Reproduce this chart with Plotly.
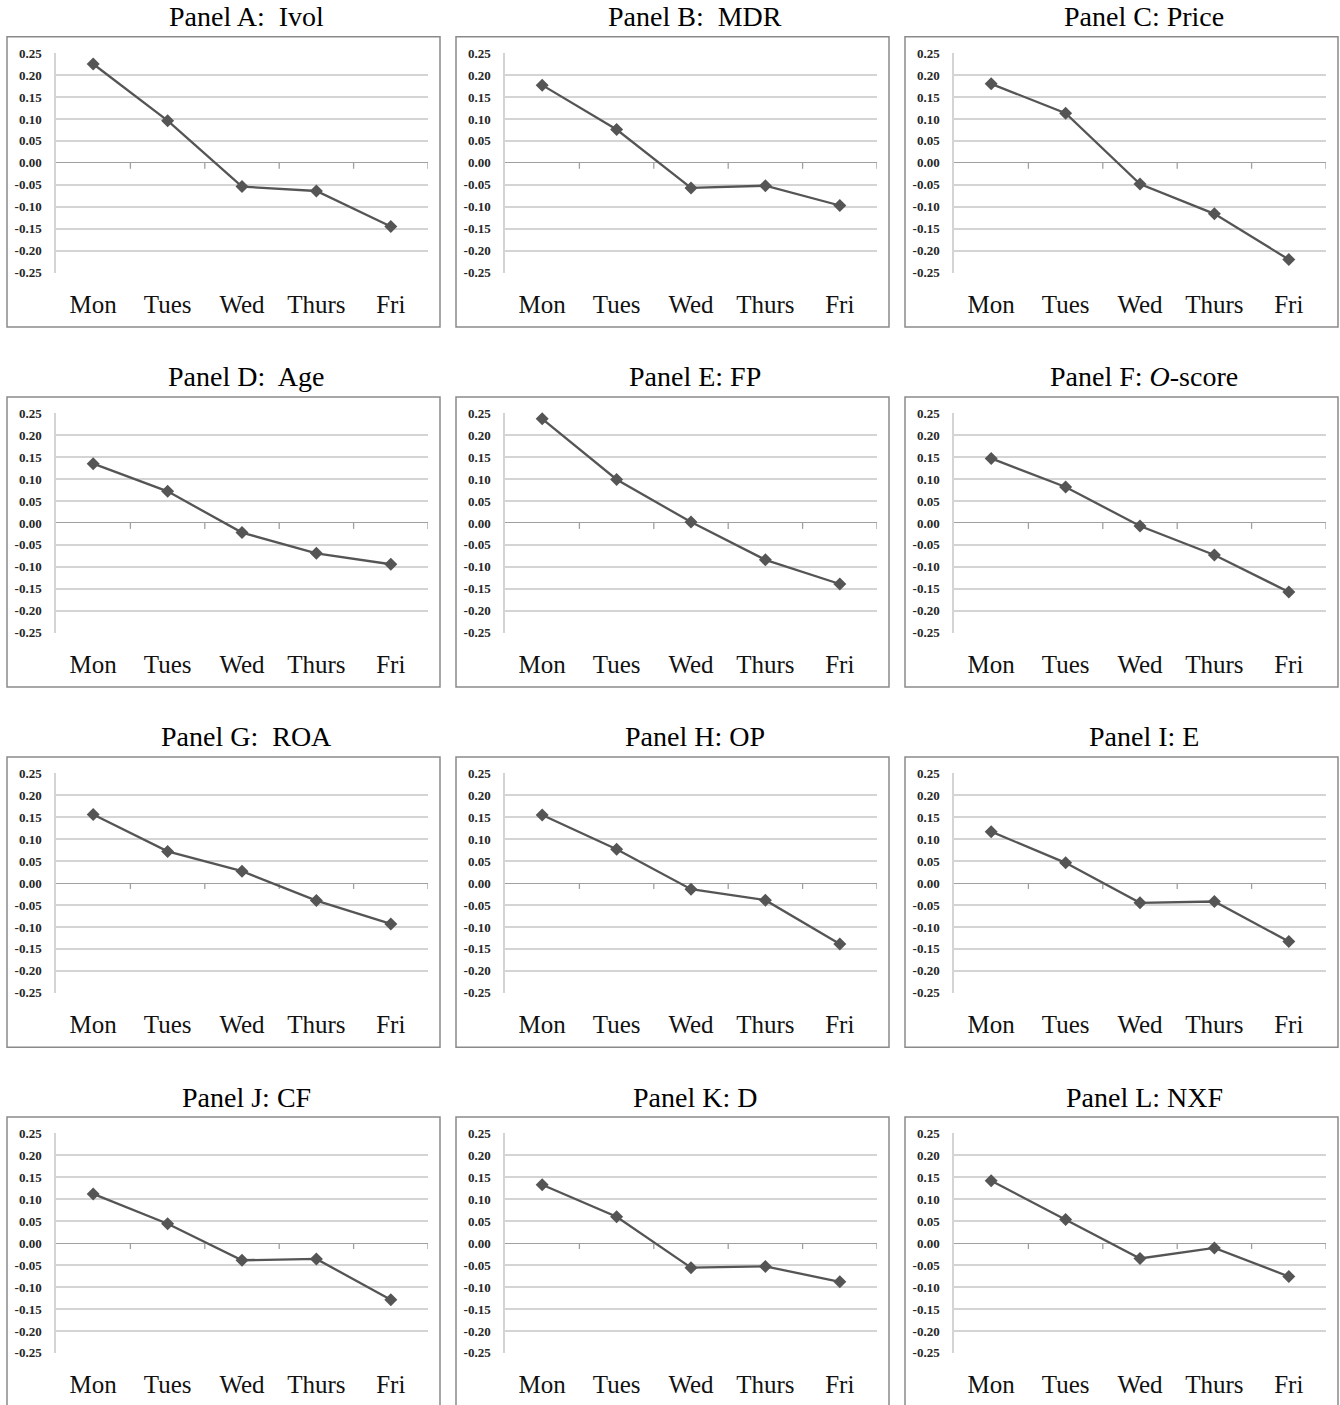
import plotly.graph_objects as go

# Day-of-week categories shared by every panel
days = ["Mon", "Tues", "Wed", "Thurs", "Fri"]

# Panel titles (row-major, three panels per row)
panel_titles = [
    "Panel A:  Ivol", "Panel B:  MDR", "Panel C: Price",
    "Panel D:  Age", "Panel E: FP", "Panel F: <i>O</i>-score",
    "Panel G:  ROA", "Panel H: OP", "Panel I: E",
    "Panel J: CF", "Panel K: D", "Panel L: NXF",
]

# Series values, one list per panel
ivol = [0.225, 0.096, -0.054, -0.064, -0.145]
mdr = [0.177, 0.076, -0.057, -0.052, -0.097]
price = [0.180, 0.113, -0.048, -0.116, -0.220]
age = [0.135, 0.072, -0.022, -0.069, -0.094]
fp = [0.237, 0.099, 0.002, -0.084, -0.139]
oscore = [0.147, 0.082, -0.007, -0.073, -0.157]
roa = [0.156, 0.072, 0.027, -0.040, -0.093]
op = [0.155, 0.077, -0.014, -0.039, -0.139]
e_vals = [0.117, 0.046, -0.045, -0.042, -0.133]
cf = [0.112, 0.044, -0.039, -0.036, -0.129]
d_vals = [0.133, 0.060, -0.056, -0.053, -0.088]
nxf = [0.142, 0.054, -0.035, -0.011, -0.076]

series = [ivol, mdr, price, age, fp, oscore, roa, op, e_vals, cf, d_vals, nxf]

# Y-axis ticks and their printed labels
y_ticks = [0.25, 0.20, 0.15, 0.10, 0.05, 0.00, -0.05, -0.10, -0.15, -0.20, -0.25]
y_tick_labels = ["0.25", "0.20", "0.15", "0.10", "0.05", "0.00",
                 "-0.05", "-0.10", "-0.15", "-0.20", "-0.25"]

# ---- layout geometry (pixels) ----
W, H = 1340, 1405
NCOL = 3
PLOT_LEFT0, COL_STEP, PLOT_W = 56, 449, 372
PLOT_TOP0, ROW_STEP, PLOT_H = 46.3, 363.7, 222.3
FRAME_TOP, FRAME_BOTTOM, TITLE_GAP = 16.2, 54.6, 36.4
SERIF = "Liberation Serif, Times New Roman, serif"
LINE_COLOR = "#555555"
GRID_COLOR = "#d4d4d4"
AXIS_COLOR = "#a0a0a0"
BOX_COLOR = "#8a8a8a"
TICK_DROP = 6 / PLOT_H * 0.5  # length of the boundary tick marks, in data units

x_pos = list(range(len(days)))
boundaries = [k + 0.5 for k in range(len(days))]


def px_x(v):
    return v / W


def px_y(v):
    return 1 - v / H


fig = go.Figure()
layout = dict(
    width=W, height=H,
    margin=dict(l=0, r=0, t=0, b=0),
    paper_bgcolor="white", plot_bgcolor="white",
    showlegend=False,
    font=dict(family=SERIF, color="#222222"),
)
shapes = []
annotations = []

for i, (title, vals) in enumerate(zip(panel_titles, series)):
    r, c = divmod(i, NCOL)
    left = PLOT_LEFT0 + COL_STEP * c
    right = left + PLOT_W
    top = PLOT_TOP0 + ROW_STEP * r
    bottom = top + PLOT_H

    n = i + 1
    xa = "x" if n == 1 else f"x{n}"
    ya = "y" if n == 1 else f"y{n}"

    # short downward ticks on the zero line at the category boundaries
    tx, ty = [], []
    for b in boundaries:
        tx += [b, b, None]
        ty += [0, -TICK_DROP, None]
    fig.add_trace(go.Scatter(
        x=tx, y=ty, xaxis=xa, yaxis=ya, mode="lines",
        line=dict(color=AXIS_COLOR, width=1.3), hoverinfo="skip",
    ))

    fig.add_trace(go.Scatter(
        x=x_pos, y=vals, xaxis=xa, yaxis=ya,
        mode="lines+markers",
        line=dict(color=LINE_COLOR, width=2.3),
        marker=dict(symbol="diamond", size=10, color=LINE_COLOR),
        cliponaxis=False,
    ))

    layout[f"xaxis{n}"] = dict(
        domain=[px_x(left), px_x(right)], anchor=ya,
        range=[-0.5, len(days) - 0.5],
        tickmode="array", tickvals=x_pos, ticktext=days,
        showgrid=False, zeroline=False, showline=False, ticks="",
        tickfont=dict(size=25, family=SERIF, color="#111111"),
        ticklabelstandoff=14,
    )
    layout[f"yaxis{n}"] = dict(
        domain=[px_y(bottom), px_y(top)], anchor=xa,
        range=[-0.2505, 0.2505],
        tickmode="array", tickvals=y_ticks, ticktext=y_tick_labels,
        showgrid=True, gridcolor=GRID_COLOR, gridwidth=1.6,
        zeroline=True, zerolinecolor=AXIS_COLOR, zerolinewidth=1.4,
        showline=True, linecolor=GRID_COLOR, linewidth=1.5,
        ticks="", ticklabelstandoff=10,
        tickfont=dict(size=13, family=SERIF, color="#262626", weight="bold"),
    )

    # panel frame
    shapes.append(dict(
        type="rect", xref="paper", yref="paper", layer="below",
        x0=px_x(left - 49), x1=px_x(right + 12),
        y0=px_y(bottom + FRAME_BOTTOM), y1=px_y(top - FRAME_TOP),
        line=dict(color=BOX_COLOR, width=1.5), fillcolor="rgba(0,0,0,0)",
    ))
    # panel title
    annotations.append(dict(
        text=title, xref="paper", yref="paper",
        x=px_x((left + right) / 2 + 4), y=px_y(top - TITLE_GAP),
        xanchor="center", yanchor="middle", showarrow=False,
        font=dict(size=28, family=SERIF, color="black"),
    ))

layout["shapes"] = shapes
layout["annotations"] = annotations
fig.update_layout(**layout)

fig.write_html("out.html")
